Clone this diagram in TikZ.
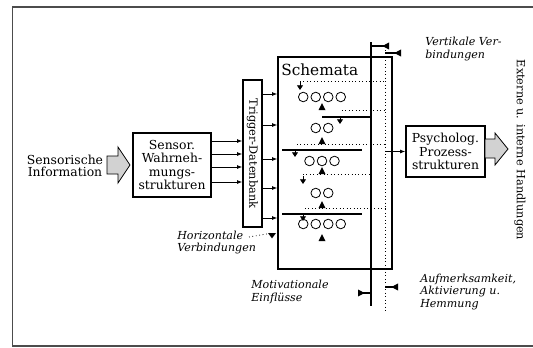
\documentclass[tikz,border=0pt]{standalone}
\usepackage{fontspec}
\setmainfont{DejaVu Serif}
\usetikzlibrary{arrows.meta, positioning, calc}

\begin{document}
\begin{tikzpicture}[
    x=0.75pt, y=-0.75pt,
    >={Latex[length=4pt, width=3pt]},
    box/.style={
        draw,
        line width=1pt,
        align=center,
        inner sep=1pt,
        font=\fontsize{9.3}{10}\selectfont
    },
    flow/.style={->, line width=0.6pt},
    dline/.style={dotted, line width=0.6pt},
    sline/.style={line width=0.9pt},
    dnarrow/.style={-{Triangle[length=3.5pt, width=4.5pt]}, line width=0.6pt},
    tick/.style={-{Triangle[reversed, length=5pt, width=5pt]}, line width=0.9pt},
    blockarrow/.style={draw, fill=gray!35, line width=0.6pt},
    frame/.style={draw=black!70, line width=1.1pt},
    note/.style={font=\fontsize{8.3}{9.3}\selectfont\itshape, align=left, inner sep=0pt}
]
\useasboundingbox (0,0) rectangle (533,347);

% frame
\draw[frame] (533,7) -- (12.5,7) -- (12.5,346) -- (533,346);

% input side
\node[font=\fontsize{9.3}{9}\selectfont, align=center] (sensinfo) at (65,166)
{Sensorische\\Information};

\node[box, minimum width=58.5pt, minimum height=48pt] (sensor) at (172,165)
{Sensor.\\Wahrneh-\\mungs-\\strukturen};

\draw[blockarrow] (107,156) -- (118,156) -- (118,147) -- (130,165)
    -- (118,183) -- (118,174) -- (107,174) -- cycle;

\node[box, minimum width=14.25pt, minimum height=110.25pt] (trigger) at (252.5,153.5) {};
\node[rotate=-90, font=\fontsize{8.5}{9}\selectfont, inner sep=0pt] (triggertext)
at (trigger.center) {Trigger-Datenbank};

\foreach \yy in {141,154,167,182}
    \draw[flow] (sensor.east |- 0,\yy) -- (trigger.west |- 0,\yy);

% schemata
\node[box, minimum width=85.5pt, minimum height=159pt] (schemata) at (335,163) {};
\node[font=\fontsize{11.5}{11.5}\selectfont, anchor=west, inner sep=0pt] (schtitle)
at (281,70) {Schemata};

\foreach \yy in {94,125,159,188,218}
    \draw[flow] (trigger.east |- 0,\yy) -- (schemata.west |- 0,\yy);

\coordinate (stop) at (371,42);
\coordinate (sbot) at (371,306);
\coordinate (dtop) at (385,50);
\coordinate (dbot) at (385,311);
\draw[sline] (stop) -- (sbot);
\draw[dline] (dtop) -- (dbot);

\draw[dline] (300,81) -- (dtop |- 0,81);
\draw[dline] (342,110) -- (dtop |- 0,110);
\draw[dline] (297,144) -- (dtop |- 0,144);
\draw[dline] (303,174) -- (stop |- 0,174);
\draw[dline] (305,208) -- (dtop |- 0,208);

\draw[sline] (322,117) -- (stop |- 0,117);
\draw[sline] (282,150) -- (362,150);
\draw[sline] (282,214) -- (362,214);

\draw[dnarrow] (300,81) -- (300,90);
\draw[dnarrow] (340,117) -- (340,124);
\draw[dnarrow] (295,150) -- (295,157);
\draw[dnarrow] (303,176) -- (303,184);
\draw[dnarrow] (303,214) -- (303,221);

\foreach \yy/\nn in {97/4, 128/2, 161/3, 193/2, 224/4}
    \foreach \i in {1,...,\nn}
        \draw[line width=0.6pt] ({322+(\i-(\nn+1)/2)*12.5},\yy) circle[radius=3.6pt];

\foreach \yy in {110,144,174,208,241}
    \fill (318.5,\yy) -- (325.5,\yy) -- (322,{\yy-7}) -- cycle;

% vertical connections
\draw[tick] (stop |- 0,46) -- (389,46);
\draw[tick] (dtop |- 0,53) -- (401,53);
\draw[tick] (sbot |- 0,293) -- (358,293);
\draw[tick] (dbot |- 0,287) -- (398,287);

% output side
\node[box, minimum width=59.25pt, minimum height=38.25pt] (psych) at (445.5,151.5)
{Psycholog.\\Prozess-\\strukturen};
\draw[flow] (dtop |- psych.west) -- (psych.west);

\draw[blockarrow] (485,139) -- (495,139) -- (495,133) -- (508,149)
    -- (495,165) -- (495,158) -- (485,158) -- cycle;

\node[rotate=-90, font=\fontsize{8.5}{9}\selectfont] (handl) at (520,150)
{Externe u. interne Handlungen};

% labels
\node[note, anchor=west] (vertlab) at (425,49) {Vertikale Ver-\\bindungen};
\node[note, anchor=west] (horlab) at (177,242.5) {Horizontale\\Verbindungen};
\node[note, anchor=west] (motlab) at (251,292) {Motivationale\\Einflüsse};
\node[note, anchor=west] (auflab) at (420,292) {Aufmerksamkeit,\\Aktivierung u.\\Hemmung};

\coordinate (hdots) at (249,237);
\coordinate (htri) at (272,233);
\draw[dline] (hdots) -- (htri);
\fill ([xshift=-3pt]htri) -- ([xshift=3pt]htri) -- ([yshift=-4pt]htri) -- cycle;

\end{tikzpicture}
\end{document}
